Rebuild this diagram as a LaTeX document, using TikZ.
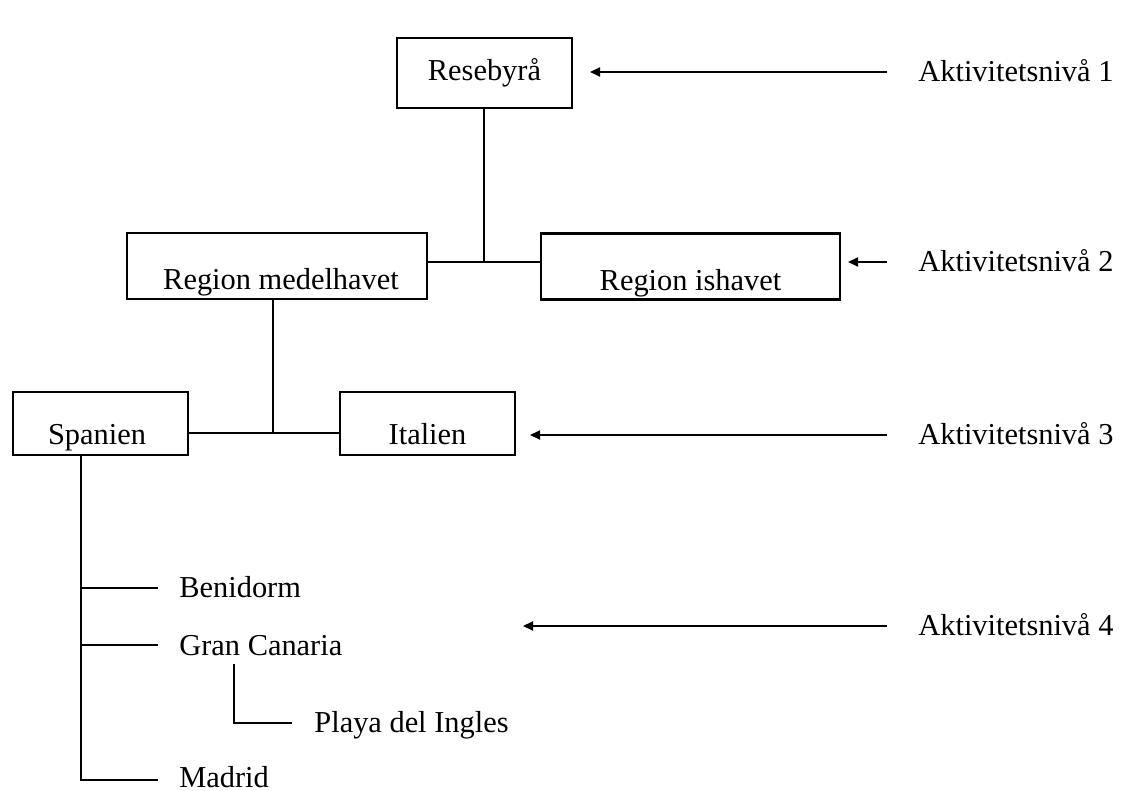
\documentclass[tikz,border=0pt]{standalone}
\usepackage{fontspec}
\setmainfont{Liberation Serif}
\usetikzlibrary{arrows.meta}
\begin{document}
\begin{tikzpicture}[x=0.5pt,y=-0.5pt,
  every node/.style={font=\fontsize{15.2}{18}\selectfont},
  box/.style={draw,line width=1.4pt,inner sep=0pt},
  txt/.style={inner sep=0pt,anchor=base},
  item/.style={inner sep=0pt,anchor=base west},
  level/.style={inner sep=0pt,inner xsep=15.5pt,anchor=base west},
  link/.style={line width=1pt},
  pointer/.style={line width=1pt,-{Triangle[length=5pt,width=4.5pt]}}]
\useasboundingbox[fill=white] (0,0) rectangle (1121,791);

% boxes
\node[box,minimum width=87.5pt,minimum height=35pt] (rese) at (484.5,73) {};
\node[txt] (reset) at (484.5,81) {Resebyrå};
\node[box,minimum width=150pt,minimum height=33pt] (rmed) at (277,266) {};
\node[txt] (rmedt) at (281,290) {Region medelhavet};
\node[box,minimum width=149.5pt,minimum height=33pt] (rish) at (690.5,266.5) {};
\node[txt] (risht) at (690.5,291) {Region ishavet};
\node[box,minimum width=87.5pt,minimum height=31.5pt] (spa) at (100.5,423.5) {};
\node[txt] (spat) at (97,445) {Spanien};
\node[box,minimum width=87.5pt,minimum height=31.5pt] (ita) at (427.5,423.5) {};
\node[txt] (itat) at (427.5,445) {Italien};

% leaf entries
\node[item] (beni) at (179,597) {Benidorm};
\node[item] (gran) at (179,655) {Gran Canaria};
\node[item] (play) at (314,733) {Playa del Ingles};
\node[item] (madr) at (179,787) {Madrid};

% level labels
\node[level] (lv1) at (887,82) {Aktivitetsnivå 1};
\node[level] (lv2) at (887,272) {Aktivitetsnivå 2};
\node[level] (lv3) at (887,445) {Aktivitetsnivå 3};
\node[level] (lv4) at (887,636) {Aktivitetsnivå 4};

% tree connectors
\coordinate (j1) at (484,262);
\draw[link] (rese.south -| j1) -- (j1);
\draw[link] (rmed.east |- j1) -- (rish.west |- j1);
\coordinate (j2) at (273,433);
\draw[link] (rmed.south -| j2) -- (j2);
\draw[link] (spa.east |- j2) -- (ita.west |- j2);

\coordinate (s0) at (81,455);
\coordinate (sb) at (81,588);
\coordinate (sg) at (81,645);
\coordinate (sm) at (81,780);
\draw[link] (s0) -- (sm) -- (158,780);
\draw[link] (sb) -- (158,588);
\draw[link] (sg) -- (158,645);
\coordinate (g0) at (234,664);
\coordinate (g1) at (234,723);
\draw[link] (g0) -- (g1) -- (292,723);

% level pointers
\draw[pointer] (lv1.west |- 0,72) -- (590,72);
\draw[pointer] (lv2.west |- 0,262) -- (848,262);
\draw[pointer] (lv3.west |- 0,435) -- (530,435);
\draw[pointer] (lv4.west |- 0,626) -- (523,626);
\end{tikzpicture}
\end{document}
